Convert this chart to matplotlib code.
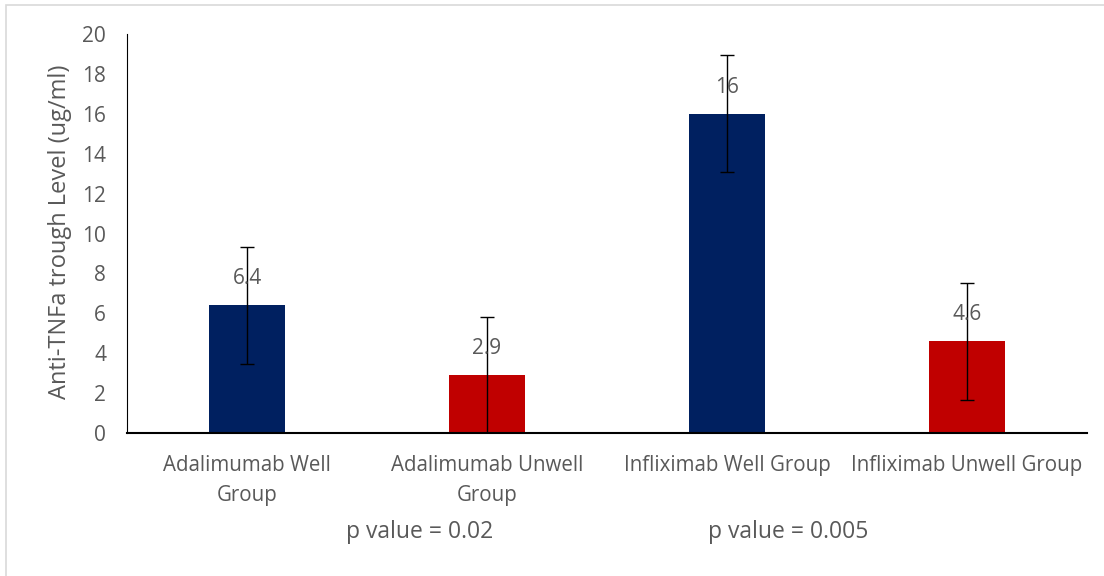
import matplotlib.pyplot as plt
from matplotlib.patches import Rectangle

plt.rcParams['font.family'] = ['Open Sans', 'DejaVu Sans']

categories = ["Adalimumab Well\nGroup", "Adalimumab Unwell\nGroup",
              "Infliximab Well Group", "Infliximab Unwell Group"]
values = [6.4, 2.9, 16, 4.6]
errors = [2.93, 2.93, 2.93, 2.93]
labels = ["6.4", "2.9", "16", "4.6"]
colors = ["#002060", "#C00000", "#002060", "#C00000"]
p_labels = ["p value = 0.02", "p value = 0.005"]

W, H = 1104, 576
TXT = "#595959"
fig = plt.figure(figsize=(W / 100, H / 100), dpi=100)

# light chart-area border (Excel style)
fig.add_artist(Rectangle((6 / W, -0.05), 1.2, 1 - 5 / H + 0.05, transform=fig.transFigure,
                         fill=False, edgecolor="#D9D9D9", linewidth=1.2))

ax = fig.add_axes([127 / W, 1 - 433 / H, 960 / W, 399 / H])
x = range(len(values))
ax.bar(x, values, width=0.32, color=colors, zorder=2)
ax.errorbar(x, values, yerr=errors, fmt="none", ecolor="black", elinewidth=1,
            capsize=5, capthick=1, zorder=3)
for i, (v, lab) in enumerate(zip(values, labels)):
    ax.annotate(lab, (i, v), xytext=(0, 19), textcoords="offset points",
                ha="center", va="center", fontsize=15, color=TXT, zorder=4)

ax.set_xlim(-0.5, 3.5)
ax.set_ylim(0, 20)
ax.set_yticks(range(0, 21, 2))
ax.set_xticks(list(x))
ax.set_xticklabels(categories, fontsize=14.8, color=TXT, linespacing=1.6)
ax.tick_params(axis="y", labelsize=15, labelcolor=TXT, length=0, pad=15)
ax.tick_params(axis="x", length=0, pad=15.5)
for s in ["top", "right"]:
    ax.spines[s].set_visible(False)
ax.spines["left"].set_color("black")
ax.spines["bottom"].set_color("black")
ax.spines["bottom"].set_linewidth(1.5)

fig.text(60 / W, 1 - 232 / H, "Anti-TNFa trough Level (ug/ml)", rotation=90,
         ha="center", va="center", fontsize=17, color=TXT)
fig.text(420 / W, 1 - 532 / H, p_labels[0], ha="center", va="center",
         fontsize=16.5, color=TXT)
fig.text(788 / W, 1 - 532 / H, p_labels[1], ha="center", va="center",
         fontsize=16.5, color=TXT)

fig.savefig("out.png", dpi=100)
